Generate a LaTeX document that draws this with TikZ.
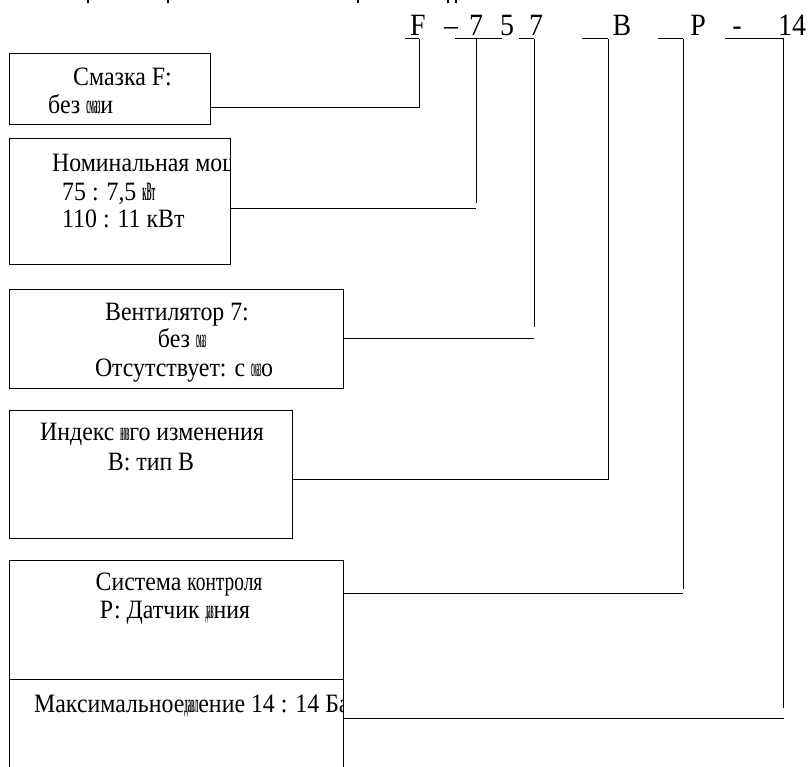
\documentclass[tikz,border=0pt]{standalone}
\usepackage{fontspec}
\setmainfont[FakeStretch=0.9]{Liberation Serif}
% squeeze a word into a given width (overprinted letters)
\newcommand\squash[2]{\resizebox{#1}{\height}{#2}}
\newcommand\blot[2]{\resizebox{#1}{\height}{\textbf{#2}}}
\tikzset{
  box/.style={draw, line width=0.9pt, rectangle, anchor=north west, inner sep=0pt},
  txt/.style={inner sep=0pt, anchor=base, font=\fontsize{26.5}{28}\selectfont},
  code/.style={inner sep=0pt, anchor=base, font=\fontsize{31}{32}\selectfont},
  link/.style={line width=0.9pt},
}
\begin{document}
\begin{tikzpicture}[x=1pt,y=-1pt]
    \path[use as bounding box, clip] (0,0) rectangle (808,766);

    % code row
    \path (418,35) node[code](cF){F} (451,35) node[code](cDash){--}
          (476,35) node[code](cSeven){7} (507,35) node[code](cFive){5}
          (536,35) node[code](cSevenB){7} (622,35) node[code](cB){B}
          (698,35) node[code](cP){P} (737,35) node[code](cHyph){-}
          (792,35) node[code](cFourteen){14};

    % boxes
    \node[box, minimum width=201pt, minimum height=71pt] (smazka) at (9,53) {};
    \node[box, minimum width=221pt, minimum height=126pt] (nom) at (9,138) {};
    \node[box, minimum width=334pt, minimum height=99pt] (vent) at (9,289) {};
    \node[box, minimum width=283pt, minimum height=128pt] (index) at (9,410) {};
    \node[box, minimum width=334pt, minimum height=119pt] (sys) at (9,560) {};
    \node[box, minimum width=334pt, minimum height=121pt] (maxp) at (9,679) {};

    % texts
    \node[txt, anchor=base west] (smazkaA) at (73,85) {Смазка F:};
    \node[txt, anchor=base west] (smazkaB) at (48,113) {без \blot{14pt}{смаз}и};
    \begin{scope}
        \clip (nom.north west) rectangle (nom.south east);
        \node[txt, anchor=base west] (nomA) at (52,171) {Номинальная мощность};
    \end{scope}
    \node[txt, anchor=base west] (nomB) at (62,200) {75 : 7,5 \blot{13pt}{кВт}};
    \node[txt, anchor=base west] (nomC) at (62,227) {110 : 11 кВт};
    \node[txt] (ventA) at (177,320) {Вентилятор 7:};
    \node[txt] (ventB) at (182,347) {без \blot{10pt}{смаз}};
    \node[txt] (ventC) at (184,376) {Отсутствует: с \blot{10pt}{смаз}о};
    \node[txt] (indexA) at (152,440) {Индекс \blot{9pt}{нов}го изменения};
    \node[txt] (indexB) at (151,470) {В: тип В};
    \node[txt] (sysA) at (179,590) {Система \squash{75pt}{контроля}};
    \node[txt] (sysB) at (175,618) {Р: Датчик \blot{8pt}{дав}ния};
    \begin{scope}
        \clip (maxp.north west) rectangle (maxp.south east);
        \node[txt, anchor=base west] (maxpA) at (34,712) {Максимальное\blot{14pt}{давл}ение 14 : 14 Бар};
    \end{scope}

    % underlines
    \coordinate (t1) at (419,38.5);
    \coordinate (t2) at (476,38.5);
    \coordinate (t3) at (534,38.5);
    \coordinate (t4) at (608,38.5);
    \coordinate (t5) at (683,38.5);
    \coordinate (t6) at (783.5,38.5);
    \draw[link] (405,38.5) -- (t1);
    \draw[link] (455,38.5) -- (502,38.5);
    \draw[link] (519,38.5) -- (t3);
    \draw[link] (582,38.5) -- (t4);
    \draw[link] (658,38.5) -- (t5);
    \draw[link] (725,38.5) -- (t6);

    % connectors
    \draw[link] (t1) |- (smazka.east |- 0,107);
    \draw[link] (t2) -- (476,203);
    \draw[link] (nom.east |- 0,208) -- (476,208);
    \draw[link] (t3) -- (534,327);
    \draw[link] (vent.east |- 0,338) -- (534,338);
    \draw[link] (t4) |- (index.east |- 0,479);
    \draw[link] (t5) -- (683,589);
    \draw[link] (sys.east |- 0,593) -- (683,593);
    \draw[link] (t6) -- (783.5,708);
    \draw[link] (maxp.east |- 0,718) -- (783.5,718);

    % cut-off marks at the top edge
    \foreach \x in {88,168,358,448,456}
        \draw[line width=1.2pt] (\x,0) -- (\x,3);
\end{tikzpicture}
\end{document}
